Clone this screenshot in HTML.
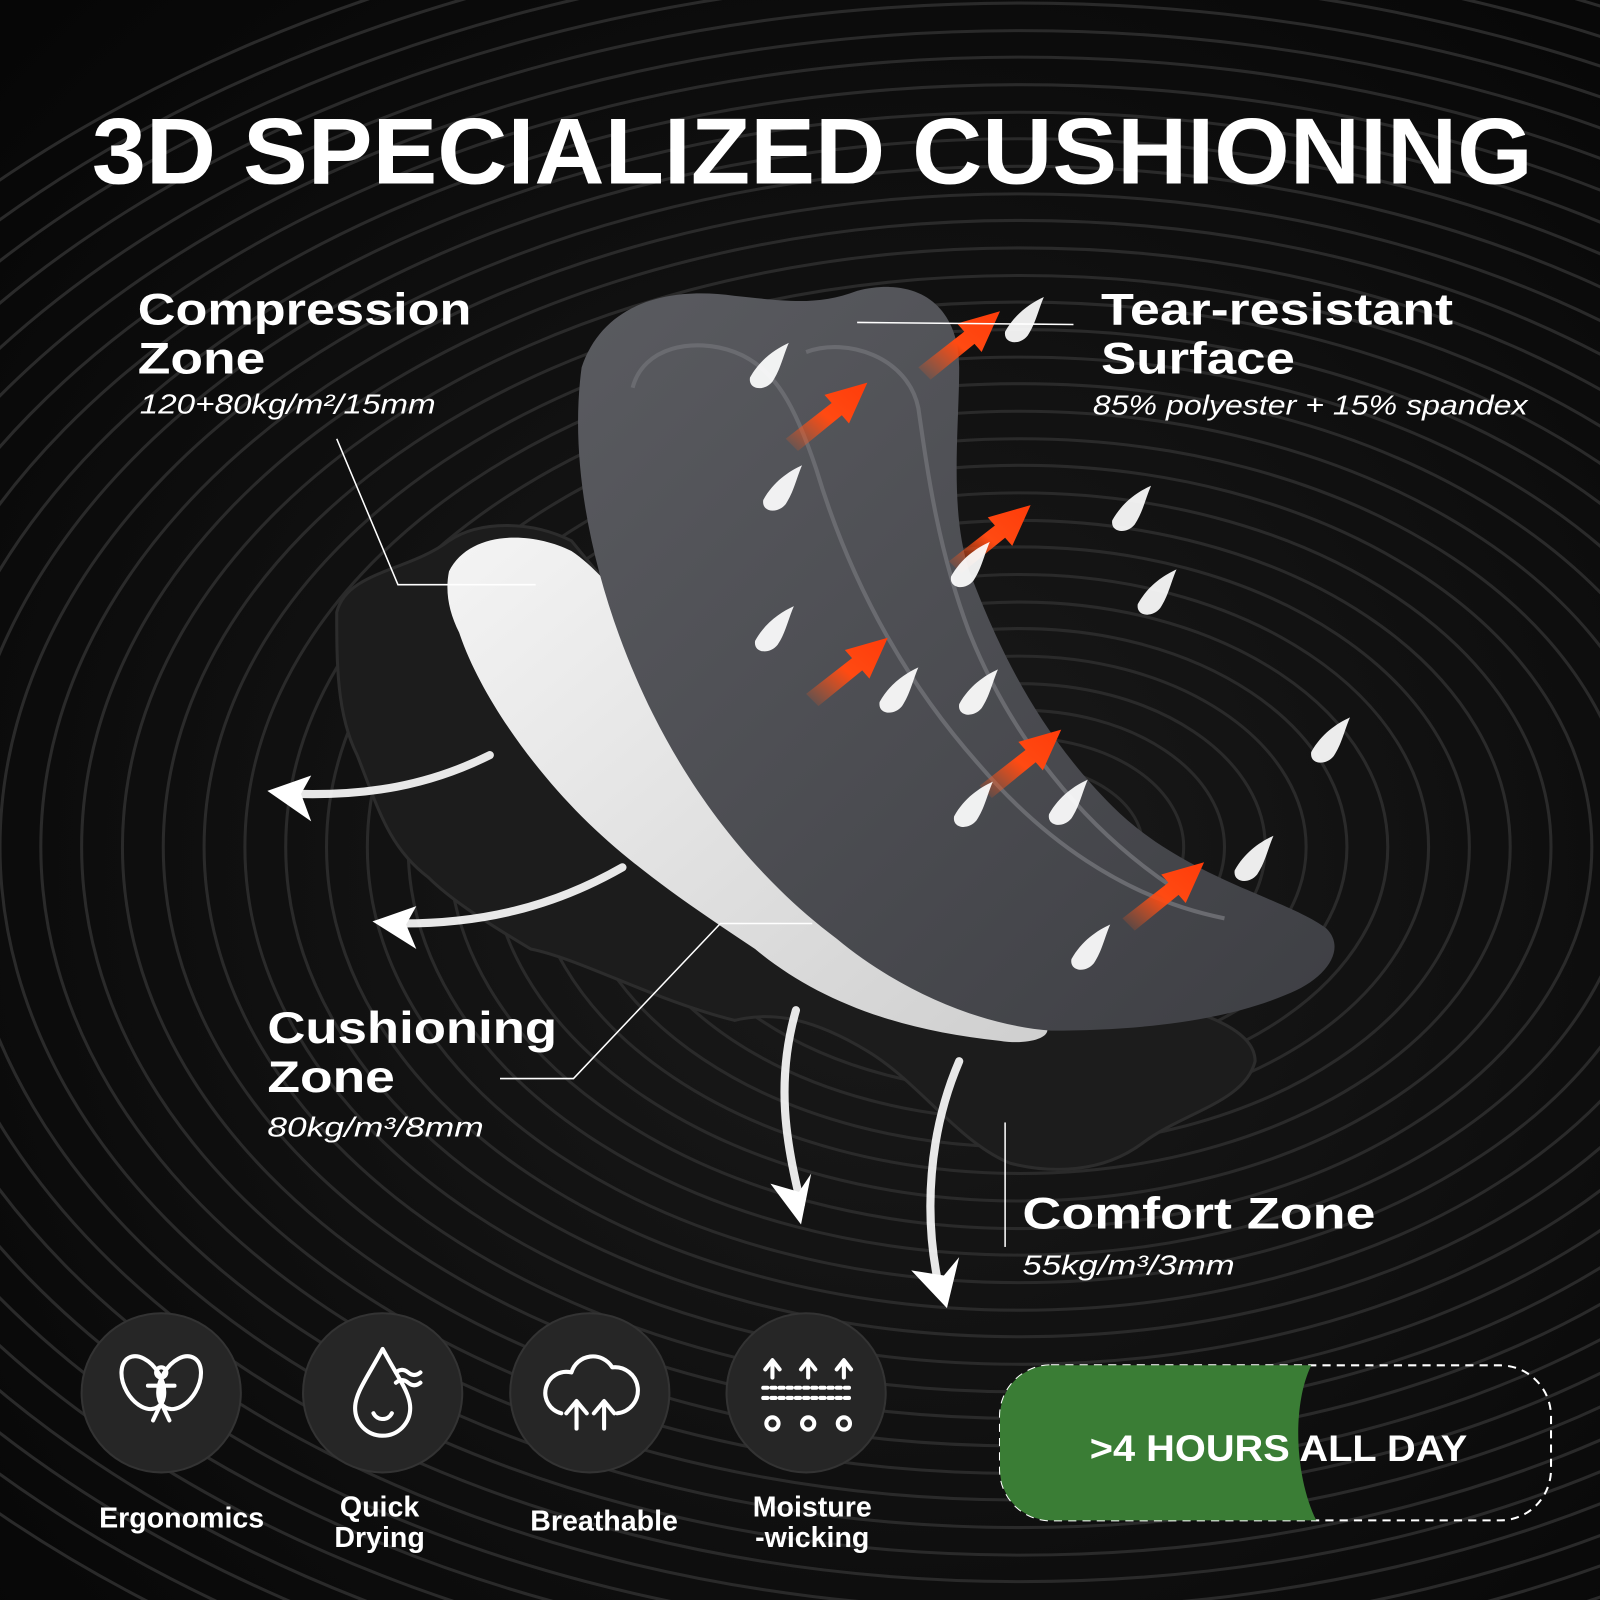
<!DOCTYPE html>
<html><head><meta charset="utf-8"><style>
html,body{margin:0;padding:0;background:#000;width:1600px;height:1600px;overflow:hidden}
body{position:fixed;top:0;left:0}
svg{display:block;position:absolute;top:0;left:0}
text{font-family:"Liberation Sans",sans-serif;fill:#fff}
</style></head><body>
<svg width="1600" height="1600" viewBox="0 0 1568 1568" xmlns="http://www.w3.org/2000/svg">
<defs>
<radialGradient id="bg" cx="0.55" cy="0.55" r="0.8">
<stop offset="0" stop-color="#1a1a1a"/><stop offset="1" stop-color="#050505"/>
</radialGradient>
<linearGradient id="gp" x1="0" y1="0" x2="1" y2="1">
<stop offset="0" stop-color="#5a5b60"/><stop offset="1" stop-color="#3e3f44"/>
</linearGradient>
<linearGradient id="wp" x1="0" y1="0" x2="1" y2="1">
<stop offset="0" stop-color="#f4f4f4"/><stop offset="1" stop-color="#cfcfcf"/>
</linearGradient>
<linearGradient id="or" x1="0" y1="1" x2="1" y2="0">
<stop offset="0" stop-color="#ff5a1a" stop-opacity="0"/><stop offset="0.5" stop-color="#ff4a12"/><stop offset="1" stop-color="#ff3c0a"/>
</linearGradient>
<g id="arrow"><path d="M0 40 L45 5 L38 -3 L80 -15 L62 25 L55 17 L12 52 Z" fill="url(#or)"/></g>
<g id="drop"><path d="M0 0 C10 -18 25 -28 38 -34 C32 -20 30 -8 22 4 C14 14 -2 12 0 0Z" fill="#fff" opacity="0.92"/></g>
</defs>
<rect width="1568" height="1568" fill="url(#bg)"/>
<g fill="none" stroke="#2a2a2a" stroke-width="3">
<ellipse cx="1000" cy="830" rx="40" ry="27"/>
<ellipse cx="1000" cy="830" rx="80" ry="54"/>
<ellipse cx="1000" cy="830" rx="120" ry="80"/>
<ellipse cx="1000" cy="830" rx="160" ry="107"/>
<ellipse cx="1000" cy="830" rx="200" ry="134"/>
<ellipse cx="1000" cy="830" rx="240" ry="160"/>
<ellipse cx="1000" cy="830" rx="280" ry="187"/>
<ellipse cx="1000" cy="830" rx="320" ry="214"/>
<ellipse cx="1000" cy="830" rx="360" ry="240"/>
<ellipse cx="1000" cy="830" rx="400" ry="267"/>
<ellipse cx="1000" cy="830" rx="440" ry="294"/>
<ellipse cx="1000" cy="830" rx="480" ry="320"/>
<ellipse cx="1000" cy="830" rx="520" ry="347"/>
<ellipse cx="1000" cy="830" rx="560" ry="374"/>
<ellipse cx="1000" cy="830" rx="600" ry="400"/>
<ellipse cx="1000" cy="830" rx="640" ry="427"/>
<ellipse cx="1000" cy="830" rx="680" ry="454"/>
<ellipse cx="1000" cy="830" rx="720" ry="480"/>
<ellipse cx="1000" cy="830" rx="760" ry="507"/>
<ellipse cx="1000" cy="830" rx="800" ry="534"/>
<ellipse cx="1000" cy="830" rx="840" ry="560"/>
<ellipse cx="1000" cy="830" rx="880" ry="587"/>
<ellipse cx="1000" cy="830" rx="920" ry="614"/>
<ellipse cx="1000" cy="830" rx="960" ry="640"/>
<ellipse cx="1000" cy="830" rx="1000" ry="667"/>
<ellipse cx="1000" cy="830" rx="1040" ry="694"/>
<ellipse cx="1000" cy="830" rx="1080" ry="720"/>
<ellipse cx="1000" cy="830" rx="1120" ry="747"/>
<ellipse cx="1000" cy="830" rx="1160" ry="774"/>
<ellipse cx="1000" cy="830" rx="1200" ry="800"/>
<ellipse cx="1000" cy="830" rx="1240" ry="827"/>
<ellipse cx="1000" cy="830" rx="1280" ry="854"/>
<ellipse cx="1000" cy="830" rx="1320" ry="880"/>
<ellipse cx="1000" cy="830" rx="1360" ry="907"/>
<ellipse cx="1000" cy="830" rx="1400" ry="934"/>
</g>

<text x="90" y="180" font-size="92" font-weight="bold" textLength="1412" lengthAdjust="spacingAndGlyphs">3D SPECIALIZED CUSHIONING</text>

<path d="M330 600 C340 560 400 560 440 530 C470 510 520 510 560 530 L700 700 C820 860 950 960 1120 980 C1180 990 1230 1010 1230 1040 C1220 1080 1160 1090 1120 1120 C1080 1150 1030 1150 990 1140 C940 1120 900 1060 850 1030 C800 1000 760 990 720 1000 C640 980 570 940 520 930 C470 900 440 880 420 860 C380 830 370 790 350 740 C330 700 330 650 330 600Z" fill="#1c1c1c" stroke="#2c2c2c" stroke-width="3"/>
<path d="M440 560 C460 520 520 520 560 540 C620 580 680 700 760 800 C840 900 920 960 1020 1000 C1040 1015 1010 1025 980 1020 C880 1010 800 980 740 930 C680 890 620 850 570 800 C520 750 470 680 450 620 C440 600 436 580 440 560Z" fill="url(#wp)"/>
<path d="M570 360 C590 300 650 280 720 290 C770 295 800 300 840 285 C900 270 940 300 940 360 C940 420 930 500 950 560 C980 640 1020 720 1090 790 C1160 860 1260 880 1300 910 C1320 930 1300 960 1260 975 C1200 1000 1120 1010 1030 1010 C960 1005 880 970 820 920 C740 860 680 780 640 700 C590 600 555 470 570 360Z" fill="url(#gp)"/>
<path d="M620 380 C630 340 680 330 720 345 C760 360 780 400 800 460 C830 560 880 660 960 750 C1020 820 1100 880 1200 900" fill="none" stroke="#6a6b70" stroke-width="4"/>
<path d="M790 345 C830 330 890 350 900 400 C910 470 920 540 950 620 C990 720 1060 810 1150 870" fill="none" stroke="#6a6b70" stroke-width="4"/>

<use href="#arrow" x="900" y="320"/>
<use href="#arrow" x="770" y="390"/>
<use href="#arrow" x="930" y="510"/>
<use href="#arrow" x="790" y="640"/>
<use href="#arrow" x="960" y="730"/>
<use href="#arrow" x="1100" y="860"/>
<use href="#drop" x="735" y="370"/><use href="#drop" x="748" y="490"/>
<use href="#drop" x="740" y="628"/><use href="#drop" x="862" y="688"/>
<use href="#drop" x="940" y="690"/><use href="#drop" x="935" y="800"/>
<use href="#drop" x="932" y="565"/><use href="#drop" x="1090" y="510"/>
<use href="#drop" x="1115" y="592"/><use href="#drop" x="1285" y="737"/>
<use href="#drop" x="1210" y="853"/><use href="#drop" x="1050" y="940"/>
<use href="#drop" x="985" y="325"/><use href="#drop" x="1028" y="798"/>

<g fill="none" stroke="#fff" stroke-width="8" stroke-linecap="round" opacity="0.9">
<path d="M480 740 C420 770 360 780 290 778"/>
<path d="M610 850 C540 890 470 905 395 905"/>
<path d="M780 990 C760 1060 770 1120 785 1180"/>
<path d="M940 1040 C910 1110 905 1190 920 1260"/>
</g>
<g fill="#fff">
<path d="M262 775 L305 760 L295 778 L305 805Z"/>
<path d="M365 903 L408 888 L398 906 L408 930Z"/>
<path d="M755 1160 L785 1200 L795 1150 L783 1168Z"/>
<path d="M893 1245 L928 1282 L940 1232 L925 1250Z"/>
</g>

<g stroke="#fff" stroke-width="1.5" fill="none">
<polyline points="330,430 390,573 525,573"/>
<line x1="840" y1="316" x2="1052" y2="318"/>
<polyline points="490,1057 562,1057 706,905 796,905"/>
<line x1="985" y1="1100" x2="985" y2="1222"/>
</g>

<text x="135" y="318" font-size="44" font-weight="bold" textLength="327" lengthAdjust="spacingAndGlyphs">Compression</text>
<text x="135" y="366" font-size="44" font-weight="bold" textLength="125" lengthAdjust="spacingAndGlyphs">Zone</text>
<text x="137" y="405" font-size="27" font-style="italic" textLength="290" lengthAdjust="spacingAndGlyphs">120+80kg/m²/15mm</text>

<text x="1079" y="318" font-size="44" font-weight="bold" textLength="345" lengthAdjust="spacingAndGlyphs">Tear-resistant</text>
<text x="1079" y="366" font-size="44" font-weight="bold" textLength="190" lengthAdjust="spacingAndGlyphs">Surface</text>
<text x="1071" y="406" font-size="27" font-style="italic" textLength="426" lengthAdjust="spacingAndGlyphs">85% polyester + 15% spandex</text>

<text x="262" y="1022" font-size="44" font-weight="bold" textLength="284" lengthAdjust="spacingAndGlyphs">Cushioning</text>
<text x="262" y="1070" font-size="44" font-weight="bold" textLength="125" lengthAdjust="spacingAndGlyphs">Zone</text>
<text x="262" y="1114" font-size="27" font-style="italic" textLength="212" lengthAdjust="spacingAndGlyphs">80kg/m³/8mm</text>

<text x="1002" y="1204" font-size="44" font-weight="bold" textLength="346" lengthAdjust="spacingAndGlyphs">Comfort Zone</text>
<text x="1002" y="1249" font-size="27" font-style="italic" textLength="208" lengthAdjust="spacingAndGlyphs">55kg/m³/3mm</text>

<g fill="#262626" stroke="#333" stroke-width="2">
<circle cx="158" cy="1365" r="78"/><circle cx="375" cy="1365" r="78"/>
<circle cx="578" cy="1365" r="78"/><circle cx="790" cy="1365" r="78"/>
</g>
<g fill="none" stroke="#fff" stroke-width="4" stroke-linecap="round" stroke-linejoin="round">
<ellipse cx="140" cy="1355" rx="18" ry="28" transform="rotate(-30 140 1355)"/>
<ellipse cx="176" cy="1355" rx="18" ry="28" transform="rotate(30 176 1355)"/>
<circle cx="158" cy="1345" r="5"/><path d="M145 1358 H171 M158 1358 V1375 L150 1392 M158 1375 L166 1392"/>
<path d="M375 1322 C360 1350 348 1365 348 1380 A27 27 0 0 0 402 1380 C402 1365 390 1350 375 1322Z"/>
<path d="M366 1385 A10 10 0 0 0 384 1385"/><path d="M388 1345 q6 -5 12 0 q6 5 12 0 M388 1355 q6 -5 12 0 q6 5 12 0"/>
<path d="M550 1385 A20 20 0 0 1 560 1345 A22 22 0 0 1 600 1340 A20 20 0 0 1 605 1385"/>
<path d="M565 1400 V1375 M555 1385 L565 1373 L575 1385 M592 1400 V1375 M582 1385 L592 1373 L602 1385"/>
<path d="M757 1350 V1335 M750 1342 L757 1333 L764 1342 M792 1350 V1335 M785 1342 L792 1333 L799 1342 M827 1350 V1335 M820 1342 L827 1333 L834 1342"/>
<path d="M748 1360 H836 M748 1370 H836" stroke-dasharray="4 4"/>
<circle cx="757" cy="1395" r="6"/><circle cx="792" cy="1395" r="6"/><circle cx="827" cy="1395" r="6"/>
</g>
<text x="178" y="1497" font-size="28" font-weight="bold" text-anchor="middle">Ergonomics</text>
<text x="372" y="1486" font-size="28" font-weight="bold" text-anchor="middle">Quick</text>
<text x="372" y="1516" font-size="28" font-weight="bold" text-anchor="middle">Drying</text>
<text x="592" y="1500" font-size="28" font-weight="bold" text-anchor="middle">Breathable</text>
<text x="796" y="1486" font-size="28" font-weight="bold" text-anchor="middle">Moisture</text>
<text x="796" y="1516" font-size="28" font-weight="bold" text-anchor="middle">-wicking</text>

<rect x="980" y="1338" width="540" height="152" rx="50" fill="none" stroke="#fff" stroke-width="2" stroke-dasharray="8 6"/>
<path d="M1030 1338 H1285 C1265 1380 1270 1450 1290 1490 H1030 A50 50 0 0 1 980 1440 V1388 A50 50 0 0 1 1030 1338Z" fill="#3a7d35"/>
<text x="1068" y="1432" font-size="36" font-weight="bold" textLength="370" lengthAdjust="spacingAndGlyphs">&gt;4 HOURS ALL DAY</text>
</svg>
</body></html>
